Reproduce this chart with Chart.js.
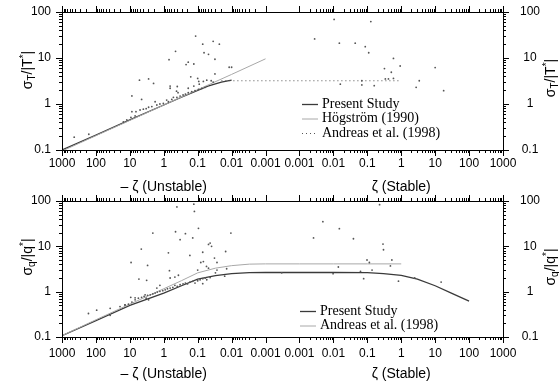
<!DOCTYPE html>
<html>
<head>
<meta charset="utf-8">
<script src="https://cdn.jsdelivr.net/npm/chart.js@4.4.0/dist/chart.umd.min.js"></script>
<style>
    html, body { margin: 0; padding: 0; background: #fff; }
    #wrap { position: relative; width: 559px; height: 390px; }
    .painel { position: absolute; left: 0; width: 559px; height: 195px; }
</style>
</head>
<body>
<div id="wrap">
    <div class="painel" style="top:0"><canvas id="graficoT" width="559" height="195"></canvas></div>
    <div class="painel" style="top:195px"><canvas id="graficoQ" width="559" height="195"></canvas></div>
</div>
<script>
// Rótulos dos eixos (zeta instável à esquerda, estável à direita)
const rotulosX = ['1000', '100', '10', '1', '0.1', '0.01', '0.001', '0.001', '0.01', '0.1', '1', '10', '100', '1000'];
const valoresY = [0.1, 1, 10, 100];
const rotulosY = ['0.1', '1', '10', '100'];

// Painel superior: sigma_T / |T*|  (zeta negativo = instável)
const tPontosZeta = [
    -437, -162, -15.5, -12.3, -9.3, -7.0, -8.7, -6.6, -5.0, -4.0, -3.3, -2.8, -2.25, -1.8, -1.6, -1.3, -1.03,
    -0.82, -0.73, -0.58, -0.52, -0.41, -0.33, -0.27, -0.23, -0.19, -0.15, -0.12, -0.095, -0.076, -0.06,
    -8.7, -5.2, -4.5, -2.8, -2.0, -0.7, -0.45, -0.19, -0.22, -0.13, -0.115, -0.071, -0.065, -0.048, -0.16,
    -0.1, -0.093, -0.65, -0.65, -0.4, -0.42, -0.38, -0.19, -0.13, -0.09, -0.068, -0.054,
    -0.035, -0.023, -0.031, -0.031, -0.0118, -0.01, -0.04, -0.035,
    0.0028, 0.0105, 0.015, 0.016, 0.127, 0.044, 0.087, 0.11, 0.59, 0.93, 0.32, 0.51, 0.34, 0.42, 0.59,
    0.069, 0.069, 0.16, 0.18, 0.24, 10, 3.4, 2.75, 17.8
];
const tPontosSigma = [
    0.19, 0.22, 0.41, 0.45, 0.51, 0.55, 0.68, 0.68, 0.74, 0.77, 0.79, 0.85, 0.88, 1.12, 0.95, 1.0, 1.03,
    1.22, 1.12, 1.26, 1.4, 1.4, 1.49, 1.57, 1.64, 1.76, 1.85, 1.94, 2.08, 2.18, 2.3,
    1.5, 3.3, 1.26, 3.5, 2.8, 9.2, 14, 8.1, 7.2, 7.4, 30, 20, 13, 12, 3.9,
    3.6, 3.1, 2.2, 2.45, 2.4, 1.9, 1.76, 2.2, 2.45, 2.7, 3.1, 3.3,
    23, 20, 9.4, 4.5, 6.3, 6.3, 3.2, 3.0,
    26, 69, 21, 2.7, 62, 21, 17.6, 13, 9.8, 6.7, 5.9, 4.9, 3.5, 3.5, 3.6,
    3.2, 2.6, 2.5, 1.26, 1.03, 6.2, 3.2, 2.3, 1.95
];
const tPresenteZeta = [-1000, -100, -10, -1, -0.3, -0.1, -0.05, -0.03, -0.02, -0.01];
const tPresenteSigma = [0.1, 0.21, 0.45, 0.95, 1.4, 1.97, 2.45, 2.75, 3.0, 3.3];
const tHogstromZeta = [-1000, -100, -10, -1, -0.1, -0.01, -0.001];
const tHogstromSigma = [0.095, 0.205, 0.44, 0.95, 2.05, 4.4, 9.6];
const tAndreasZeta = [-0.02, -0.01, 0.001, 0.01, 0.1, 1];
const tAndreasSigma = [3.2, 3.2, 3.2, 3.2, 3.2, 3.2];

// Painel inferior: sigma_q / |q*|
const qPontosZeta = [
    -166, -95, -38, -38, -14, -9.4, -7.0, -9.2, -5.4, -4.6, -3.2, -3.0, -2.1, -0.73, -0.68, -0.41, -0.45,
    -0.33, -0.23, -0.13, -0.125, -0.14, -0.095, -0.17, -0.071, -0.068, -0.081, -0.1, -0.048, -0.071,
    -19.5, -13.8, -11, -8.7, -7.0, -5.6, -4.5, -3.8, -3.3, -3.0, -2.5, -2.1, -1.8, -1.55, -1.3, -1.07,
    -0.91, -0.78, -0.65, -0.54, -0.47, -0.4, -0.33, -0.27, -0.23, -0.2, -0.17, -0.14, -0.12, -0.1,
    -0.085, -0.071, -0.06, -0.054, -1.3, -1.6, -3.55, -2.8, -0.65, -0.47, -0.37,
    -0.039, -0.043, -0.0105, -0.015, -0.032, -0.027, -0.055, -0.048, -0.027, -0.03, -0.016, -0.014, -0.043,
    0.0003, 0.014, 0.0098, 0.0026, 0.0049, 0.015, 0.23, 0.039, 0.29, 0.3, 0.098, 0.115, 0.53, 0.48,
    0.063, 0.138, 0.078, 0.83, 2.5, 15
];
const qPontosSigma = [
    0.33, 0.39, 0.43, 0.30, 0.51, 0.75, 0.73, 4.4, 1.9, 8.7, 1.78, 3.8, 19.6, 7.2, 2.9, 74, 21,
    14, 19, 85, 59, 15.3, 25, 6.3, 7.4, 4.6, 4.4, 3.0, 11, 1.5,
    0.47, 0.51, 0.53, 0.59, 0.66, 0.72, 0.75, 0.79, 0.72, 0.83, 0.85, 0.89, 0.93, 0.98, 1.02, 1.05,
    1.1, 1.16, 1.2, 1.24, 1.38, 1.31, 1.42, 1.48, 1.55, 1.48, 1.62, 1.69, 1.55, 1.74,
    1.83, 1.93, 2.0, 1.83, 1.38, 1.2, 0.85, 0.66, 2.0, 2.1, 2.3,
    10, 11.8, 19.6, 7.7, 5.5, 4.4, 3.6, 3.3, 3.0, 2.6, 2.2, 3.2, 2.05,
    2.6, 3.5, 2.5, 15.3, 35, 24.5, 83, 14.7, 11.2, 8.4, 5.0, 4.4, 5.0, 3.7,
    2.8, 3.0, 1.93, 1.7, 2.0, 1.63
];
const qPresenteZeta = [-1000, -100, -10, -1, -0.3, -0.1, -0.03, -0.01, -0.003, -0.001, 0.001, 0.01, 0.1, 0.3, 1, 3, 10, 30, 100];
const qPresenteSigma = [0.107, 0.23, 0.5, 0.93, 1.35, 1.9, 2.25, 2.5, 2.62, 2.65, 2.65, 2.65, 2.62, 2.5, 2.3, 1.9, 1.35, 0.93, 0.62];
const qAndreasZeta = [-1000, -100, -10, -1, -0.3, -0.1, -0.03, -0.01, -0.003, -0.001, 0.001, 0.01, 0.1, 1];
const qAndreasSigma = [0.107, 0.24, 0.53, 1.16, 1.75, 2.6, 3.3, 3.75, 4.05, 4.1, 4.1, 4.1, 4.1, 4.1];

const FONTE_SANS = '"Liberation Sans", Arial, sans-serif';
const FONTE_SERIF = '"Liberation Serif", "Times New Roman", serif';

// posição no eixo: -zeta 1000..0.001 -> 0..6, zeta 0.001..1000 -> 7..13
function posZeta(z) {
    return z < 0 ? 3 - Math.log10(-z) : 10 + Math.log10(z);
}

function pares(zetas, sigmas) {
    return zetas.map((z, i) => ({ x: posZeta(z), y: sigmas[i] }));
}

function textoRico(ctx, partes, tamanho) {
    let largura = 0;
    partes.forEach(p => {
        ctx.font = (p.sub || p.sup ? Math.round(tamanho * 0.7) : tamanho) + 'px ' + FONTE_SANS;
        p.w = ctx.measureText(p.t).width;
        largura += p.w;
    });
    let x = -largura / 2;
    partes.forEach(p => {
        ctx.font = (p.sub || p.sup ? Math.round(tamanho * 0.7) : tamanho) + 'px ' + FONTE_SANS;
        const dy = p.sub ? tamanho * 0.3 : (p.sup ? -tamanho * 0.3 : 0);
        ctx.fillText(p.t, x, dy);
        x += p.w;
    });
}

// Moldura, marcas, rótulos e legenda
const pluginEixos = {
    id: 'eixos',
    afterDraw(chart, args, o) {
        const { ctx, chartArea: a, scales: { x, y } } = chart;
        ctx.save();
        ctx.strokeStyle = '#000';
        ctx.fillStyle = '#000';
        ctx.lineWidth = 1;
        ctx.strokeRect(Math.round(a.left) + 0.5, Math.round(a.top) + 0.5,
            Math.round(a.right - a.left), Math.round(a.bottom - a.top));

        const marca = (x1, y1, x2, y2) => {
            ctx.beginPath();
            ctx.moveTo(x1, y1);
            ctx.lineTo(x2, y2);
            ctx.stroke();
        };

        // marcas do eixo x (baixo e cima)
        for (let i = 0; i < rotulosX.length; i++) {
            const px = Math.round(x.getPixelForValue(i)) + 0.5;
            marca(px, a.bottom, px, a.bottom + 6);
            marca(px, a.top, px, a.top - 6);
        }
        for (let i = 0; i < 13; i++) {
            if (i === 6) continue;
            for (let m = 2; m <= 9; m++) {
                const v = i < 6 ? i + 1 - Math.log10(m) : i + Math.log10(m);
                const px = Math.round(x.getPixelForValue(v)) + 0.5;
                marca(px, a.bottom, px, a.bottom + 3);
                marca(px, a.top, px, a.top - 3);
            }
        }

        // marcas do eixo y (esquerda e direita)
        valoresY.forEach(v => {
            const py = Math.round(y.getPixelForValue(v)) + 0.5;
            marca(a.left, py, a.left - 6, py);
            marca(a.right, py, a.right + 6, py);
        });
        for (let k = -1; k <= 1; k++) {
            for (let m = 2; m <= 9; m++) {
                const py = Math.round(y.getPixelForValue(m * Math.pow(10, k))) + 0.5;
                marca(a.left, py, a.left - 3, py);
                marca(a.right, py, a.right + 3, py);
            }
        }

        // rótulos numéricos
        ctx.font = '12px ' + FONTE_SANS;
        ctx.textBaseline = 'middle';
        ctx.textAlign = 'center';
        rotulosX.forEach((r, i) => ctx.fillText(r, x.getPixelForValue(i), a.bottom + o.deslocRotulo));
        valoresY.forEach((v, i) => {
            const py = y.getPixelForValue(v);
            ctx.textAlign = 'right';
            ctx.fillText(rotulosY[i], a.left - 11, py);
            ctx.textAlign = 'center';
            ctx.fillText(rotulosY[i], a.right + 27, py);
        });

        // títulos do eixo x
        ctx.font = '14px ' + FONTE_SANS;
        ctx.fillText('\u2013 \u03b6 (Unstable)', x.getPixelForValue(3), a.bottom + o.deslocTitulo);
        ctx.fillText('\u03b6 (Stable)', x.getPixelForValue(10), a.bottom + o.deslocTitulo);

        // títulos do eixo y (esquerda e direita, ambos girados)
        ctx.textAlign = 'left';
        [[28, o.tituloYEsq], [551, o.tituloYDir]].forEach(([cx, cy]) => {
            ctx.save();
            ctx.translate(cx, a.top + cy);
            ctx.rotate(-Math.PI / 2);
            textoRico(ctx, o.tituloY.map(p => Object.assign({}, p)), 14);
            ctx.restore();
        });

        // legenda
        ctx.font = '14px ' + FONTE_SERIF;
        o.legenda.forEach((item, i) => {
            const ly = o.legendaY + i * o.legendaPasso;
            ctx.save();
            ctx.strokeStyle = item.cor;
            ctx.lineWidth = item.largura;
            ctx.setLineDash(item.tracejado || []);
            marca(o.legendaX, ly + 0.5, o.legendaX + 16, ly + 0.5);
            ctx.restore();
            ctx.fillText(item.texto, o.legendaX + 20, ly);
        });
        ctx.restore();
    }
};

function criarGrafico(idCanvas, datasets, padding, eixos) {
    return new Chart(document.getElementById(idCanvas), {
        type: 'scatter',
        data: { datasets: datasets },
        options: {
            responsive: false,
            animation: false,
            devicePixelRatio: 1,
            layout: { padding: padding },
            scales: {
                x: { type: 'linear', min: 0, max: 13, display: false },
                y: { type: 'logarithmic', min: 0.1, max: 100, display: false }
            },
            plugins: {
                legend: { display: false },
                tooltip: { enabled: false },
                eixos: eixos
            }
        },
        plugins: [pluginEixos]
    });
}

function pontos(dados) {
    return { data: dados, pointRadius: 0.9, pointBackgroundColor: '#555', pointBorderWidth: 0, showLine: false };
}

function linha(dados, cor, largura, tracejado) {
    return {
        data: dados, showLine: true, pointRadius: 0, borderColor: cor, borderWidth: largura,
        borderDash: tracejado || [], tension: 0, fill: false
    };
}

let graficoT = criarGrafico('graficoT', [
    pontos(pares(tPontosZeta, tPontosSigma)),
    linha(pares(tHogstromZeta, tHogstromSigma), '#a8a8a8', 1),
    linha(pares(tAndreasZeta, tAndreasSigma), '#555', 1, [1, 3]),
    linha(pares(tPresenteZeta, tPresenteSigma), '#3a3a3a', 1.3)
], { left: 62, right: 56, top: 12, bottom: 45 }, {
    deslocRotulo: 14,
    deslocTitulo: 37,
    tituloYEsq: 58,
    tituloYDir: 66,
    tituloY: [{ t: '\u03c3' }, { t: 'T', sub: true }, { t: '/|T' }, { t: '*', sup: true }, { t: '|' }],
    legendaX: 302, legendaY: 104, legendaPasso: 14.5,
    legenda: [
        { texto: 'Present Study', cor: '#3a3a3a', largura: 1.3 },
        { texto: 'H\u00f6gstr\u00f6m (1990)', cor: '#a8a8a8', largura: 1 },
        { texto: 'Andreas et al. (1998)', cor: '#555', largura: 1, tracejado: [1, 3] }
    ]
});

let graficoQ = criarGrafico('graficoQ', [
    pontos(pares(qPontosZeta, qPontosSigma)),
    linha(pares(qAndreasZeta, qAndreasSigma), '#a8a8a8', 1),
    linha(pares(qPresenteZeta, qPresenteSigma), '#3a3a3a', 1.3)
], { left: 62, right: 56, top: 6, bottom: 53 }, {
    deslocRotulo: 17,
    deslocTitulo: 37,
    tituloYEsq: 56,
    tituloYDir: 66,
    tituloY: [{ t: '\u03c3' }, { t: 'q', sub: true }, { t: '/|q' }, { t: '*', sup: true }, { t: '|' }],
    legendaX: 300, legendaY: 116, legendaPasso: 14.5,
    legenda: [
        { texto: 'Present Study', cor: '#3a3a3a', largura: 1.3 },
        { texto: 'Andreas et al. (1998)', cor: '#a8a8a8', largura: 1 }
    ]
});
</script>
</body>
</html>
